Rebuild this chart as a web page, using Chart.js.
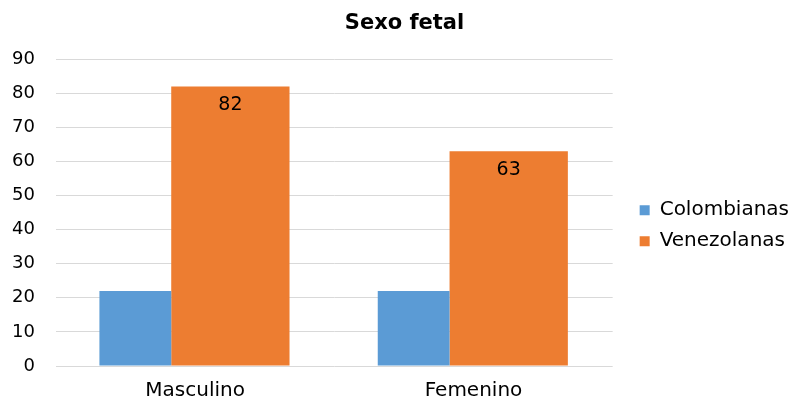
<!DOCTYPE html>
<html>
<head>
<meta charset="utf-8">
<script src="https://cdn.jsdelivr.net/npm/chart.js@4"></script>
<style>
  html, body { margin: 0; padding: 0; background: #fff; }
  #wrap { width: 790px; height: 398px; }
</style>
</head>
<body>
<div id="wrap"><canvas id="sexoFetal"></canvas></div>
<script>
const categories = ['Masculino', 'Femenino'];
const colombianas = [22, 22];
const venezolanas = [82, 63];
const seriesNames = ['Colombianas', 'Venezolanas'];
const yMin = 0, yMax = 90, yStep = 10;

const FONT = 'DejaVu Sans';

// values written inside the orange bars
const barLabels = {
  id: 'barLabels',
  afterDatasetsDraw(chart) {
    const ctx = chart.ctx;
    const meta = chart.getDatasetMeta(1);
    ctx.save();
    ctx.font = '19px "' + FONT + '"';
    ctx.fillStyle = '#000';
    ctx.textAlign = 'center';
    ctx.textBaseline = 'middle';
    meta.data.forEach((bar, i) => {
      ctx.fillText(venezolanas[i], bar.x, bar.y + 19);
    });
    ctx.restore();
  }
};

new Chart(document.getElementById('sexoFetal'), {
  type: 'bar',
  data: {
    labels: categories,
    datasets: [
      {
        label: seriesNames[0],
        data: colombianas,
        backgroundColor: '#5B9BD5',
        categoryPercentage: 0.86,
        barPercentage: 0.6
      },
      {
        label: seriesNames[1],
        data: venezolanas,
        backgroundColor: '#ED7D31',
        categoryPercentage: 0.506,
        barPercentage: 1.68
      }
    ]
  },
  options: {
    responsive: true,
    maintainAspectRatio: false,
    animation: false,
    layout: { padding: { left: 10, right: -9, top: 0, bottom: 0 } },
    plugins: {
      title: {
        display: true,
        text: 'Sexo fetal',
        color: '#000',
        font: { family: FONT, size: 21, weight: 'bold' },
        padding: { top: 11, bottom: 23 }
      },
      legend: {
        position: 'right',
        maxWidth: 220,
        title: { display: true, text: '', padding: { top: 0, bottom: 39 } },
        labels: {
          color: '#000',
          font: { family: FONT, size: 20 },
          boxWidth: 10,
          boxHeight: 10,
          padding: 11
        }
      },
      tooltip: { enabled: false }
    },
    scales: {
      x: {
        grid: { display: false },
        border: { display: false },
        ticks: { color: '#000', font: { family: FONT, size: 20 }, padding: 5 },
        afterFit(axis) { axis.height = 32; }
      },
      y: {
        min: yMin,
        max: yMax,
        ticks: { stepSize: yStep, color: '#000', font: { family: FONT, size: 18 }, padding: 21 },
        grid: { color: '#d9d9d9', lineWidth: 1, drawTicks: false },
        border: { display: false },
        afterFit(axis) { axis.width = 46; }
      },
      yRight: {
        position: 'right',
        display: true,
        grid: { display: false, drawTicks: false },
        border: { display: false },
        ticks: { display: false },
        afterFit(axis) { axis.width = 16; }
      }
    }
  },
  plugins: [barLabels]
});
</script>
</body>
</html>
